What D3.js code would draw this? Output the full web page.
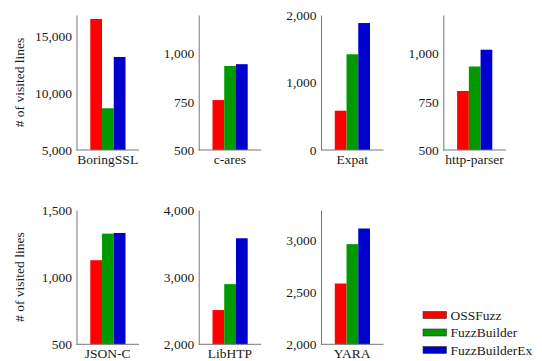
<!DOCTYPE html>
<html><head><meta charset="utf-8">
<script src="https://cdn.jsdelivr.net/npm/d3@7"></script>
<style>
html,body{margin:0;padding:0;background:#fff;}
svg text{font-family:"Liberation Serif","DejaVu Serif","Noto Serif","Times New Roman",Times,serif !important;fill:#1a1a1a;}
</style></head>
<body><svg id="c" width="542" height="361"></svg>
<script>
const categories = ["BoringSSL","c-ares","Expat","http-parser","JSON-C","LibHTP","YARA"];
const series = ["OSSFuzz","FuzzBuilder","FuzzBuilderEx"];
const ossfuzz       = [16550, 759, 582, 806, 1126, 2510, 2584];
const fuzzbuilder   = [8680, 936, 1418, 933, 1324, 2896, 2962];
const fuzzbuilderEx = [13200, 945, 1881, 1020, 1329, 3579, 3112];
const yMin = [5000, 500, 0, 500, 500, 2000, 2000];
const yMax = [16900, 1200, 2000, 1200, 1500, 4000, 3290];
const yTicks = [[5000,10000,15000],[500,750,1000],[0,1000,2000],[500,750,1000],[500,1000,1500],[2000,3000,4000],[2000,2500,3000]];
const yLabel = "# of visited lines";

const colors = ["#ff0000","#009a00","#0000cc"];
const values = [ossfuzz, fuzzbuilder, fuzzbuilderEx];
const svg = d3.select("#c");
const fontSize = 13.5;
const FF = '"Liberation Serif","DejaVu Serif","Noto Serif",serif';

const colX = [76.5, 198.7, 321, 443.3];
const rows = [{top:15, bottom:150}, {top:210, bottom:344.3}];
const plotW = 62.5;

categories.forEach((cat, i) => {
  const col = i % 4, row = Math.floor(i / 4);
  const x0 = colX[col], r = rows[row];
  const g = svg.append("g");
  const y = d3.scaleLinear().domain([yMin[i], yMax[i]]).range([r.bottom, r.top]);
  const xb = d3.scaleBand().domain(series).range([x0 + 13.8, x0 + 49]).paddingInner(0);

  series.forEach((s, k) => {
    const v = values[k][i];
    g.append("rect")
      .attr("x", xb(s)).attr("width", xb.bandwidth())
      .attr("y", y(v)).attr("height", y(yMin[i]) - y(v))
      .attr("fill", colors[k]);
  });

  g.append("line").attr("x1", x0).attr("x2", x0 + plotW)
    .attr("y1", r.bottom).attr("y2", r.bottom)
    .attr("stroke", "#777").attr("stroke-width", 1);

  const ax = d3.axisLeft(y).tickValues(yTicks[i]).tickFormat(d3.format(","))
    .tickSizeInner(0).tickSizeOuter(0).tickPadding(4.5);
  const ag = g.append("g").attr("transform", `translate(${x0},0)`).call(ax)
    .attr("font-family", FF).attr("font-size", fontSize);
  ag.select(".domain").attr("stroke", "#777");
  ag.selectAll("text").attr("font-family", FF).attr("font-size", fontSize).attr("fill", "#1a1a1a");

  g.append("text").attr("x", x0 + plotW / 2).attr("y", r.bottom + 14)
    .attr("text-anchor", "middle").attr("font-size", fontSize).attr("font-family", FF)
    .text(cat);

  if (col === 0) {
    const cy = (r.top + r.bottom) / 2;
    g.append("text").attr("transform", `translate(24,${cy}) rotate(-90)`)
      .attr("text-anchor", "middle").attr("font-size", fontSize).attr("font-family", FF).text(yLabel);
  }
});

const lg = svg.append("g");
series.forEach((s, k) => {
  const cy = 315 + k * 17.5;
  lg.append("rect").attr("x", 423).attr("y", cy - 3.5).attr("width", 23.5).attr("height", 7)
    .attr("fill", colors[k]).attr("stroke", "#333").attr("stroke-width", 0.6);
  lg.append("text").attr("x", 450.5).attr("y", cy).attr("dy", "0.35em")
    .attr("font-size", fontSize).attr("font-family", FF).text(s);
});
</script></body></html>
